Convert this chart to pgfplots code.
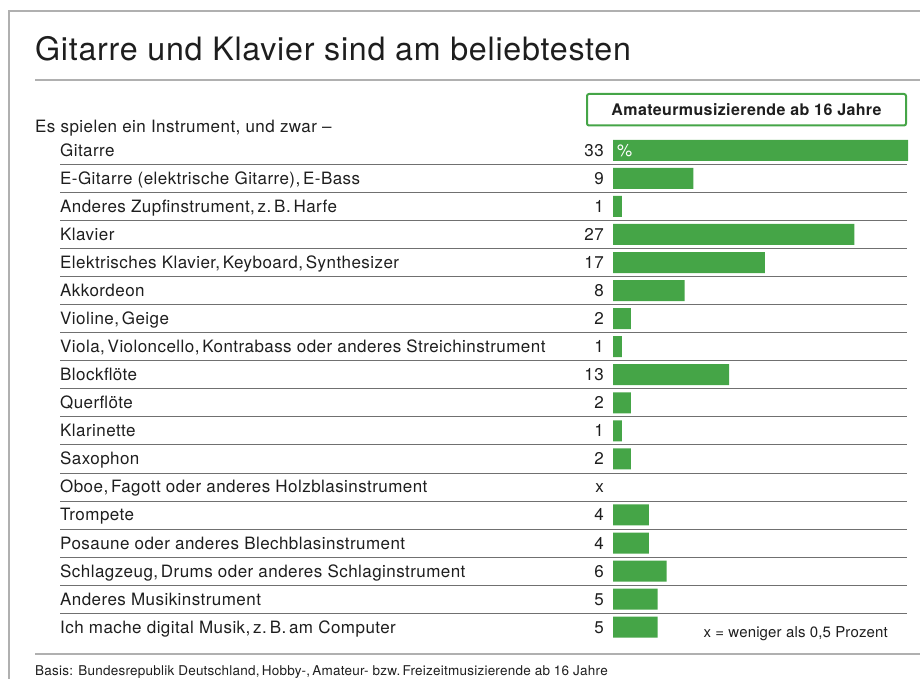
\documentclass[border=0pt]{standalone}
\usepackage{pgfplots}
\pgfplotsset{compat=1.18}
\usepackage{pgfplotstable}
\usepackage{fontspec}
\setmainfont{TeX Gyre Heros}
\definecolor{bargreen}{HTML}{45A547}
\definecolor{rulegray}{HTML}{B0B0B0}
\definecolor{sepgray}{HTML}{707070}
\definecolor{txt}{HTML}{1E1E1E}
\newcommand{\labfont}{\fontsize{17}{20}\selectfont\addfontfeatures{LetterSpace=2.6}}
\pgfplotstableread{
idx val lab
0 33 33
1 9 9
2 1 1
3 27 27
4 17 17
5 8 8
6 2 2
7 1 1
8 13 13
9 2 2
10 1 1
11 2 2
12 nan x
13 4 4
14 4 4
15 6 6
16 5 5
17 5 5
}\datatable
\begin{document}
\begin{tikzpicture}[color=txt]
\useasboundingbox (0,0) rectangle (920pt,-679pt);
% frame
\draw[rulegray, line width=1.5pt] (9pt,-679pt) -- (9pt,-11pt) -- (920pt,-11pt);
% title
\node[anchor=base west, inner sep=0pt, font=\fontsize{32.2}{38}\selectfont\addfontfeatures{LetterSpace=2.3}] at (35pt,-61pt) {Gitarre und Klavier sind am beliebtesten};
\draw[rulegray, line width=1.5pt] (35pt,-80pt) -- (920pt,-80pt);
% header box
\draw[bargreen, line width=2pt, rounded corners=2pt] (587pt,-94pt) rectangle (906pt,-125.5pt);
\node[anchor=base, inner sep=0pt, font=\fontsize{16}{19}\selectfont\bfseries\addfontfeatures{LetterSpace=2.4}] at (746.5pt,-115.8pt) {Amateurmusizierende ab 16 Jahre};
\node[anchor=base west, inner sep=0pt, font=\labfont] at (35pt,-132.7pt) {Es spielen ein Instrument, und zwar --};
% separators
\foreach \i in {1,...,17} {
  \draw[sepgray, line width=0.8pt] (60pt,{-136.3pt-28.05pt*\i}) -- (907pt,{-136.3pt-28.05pt*\i});
}
\draw[rulegray, line width=1.5pt] (35pt,-654pt) -- (920pt,-654pt);
\begin{axis}[
  at={(613pt,-136.3pt)}, anchor=north west,
  scale only axis, width=295pt, height=504.9pt,
  xmin=0, xmax=33, ymin=-0.5, ymax=17.5, y dir=reverse,
  axis line style={draw=none},
  xtick=\empty,
  ytick={0,...,17},
  major tick length=0pt,
  yticklabels={Gitarre,{E-Gitarre (elektrische Gitarre),\,E-Bass},{Anderes Zupfinstrument,\,z.\,B.\,Harfe},Klavier,{Elektrisches Klavier,\,Keyboard,\,Synthesizer},Akkordeon,{Violine,\,Geige},{Viola,\,Violoncello,\,Kontrabass oder anderes Streichinstrument},Blockflöte,Querflöte,Klarinette,Saxophon,{Oboe,\,Fagott oder anderes Holzblasinstrument},Trompete,Posaune oder anderes Blechblasinstrument,{Schlagzeug,\,Drums oder anderes Schlaginstrument},Anderes Musikinstrument,{Ich mache digital Musik,\,z.\,B.\,am Computer}},
  yticklabel style={anchor=base west, inner sep=0pt, xshift=-553pt, yshift=-6pt, font=\labfont, text=txt},
  bar width=21pt,
  clip=false,
]
\addplot[xbar, bar shift=0pt, fill=bargreen, draw=none] table[x=val, y=idx] {\datatable};
\addplot[draw=none, mark=none, nodes near coords, point meta=explicit symbolic,
  every node near coord/.style={anchor=base east, inner sep=0pt, xshift=-9pt, yshift=-6pt, font=\labfont, text=txt}]
  table[x expr=0, y=idx, meta=lab] {\datatable};
\node[anchor=base west, inner sep=0pt, text=white, font=\labfont, yshift=-6pt, xshift=4pt] at (axis cs:0,0) {\%};
\end{axis}
\node[anchor=base east, inner sep=0pt, font=\fontsize{15}{18}\selectfont\addfontfeatures{LetterSpace=1}] at (888pt,-637pt) {x = weniger als 0,5 Prozent};
\node[anchor=base west, inner sep=0pt, font=\fontsize{13.5}{16}\selectfont\addfontfeatures{LetterSpace=1.7}] at (35pt,-675pt) {Basis: Bundesrepublik Deutschland,\,Hobby-,\,Amateur- bzw.\,Freizeitmusizierende ab 16 Jahre};
\end{tikzpicture}
\end{document}
